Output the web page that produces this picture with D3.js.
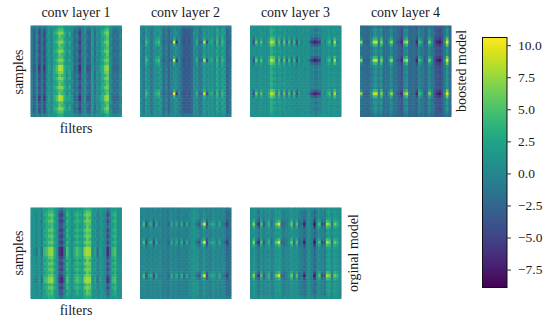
<!DOCTYPE html>
<html>
<head>
<meta charset="utf-8">
<script src="https://cdn.jsdelivr.net/npm/d3@7"></script>
<style>
	html, body { margin: 0; padding: 0; background: #fff; }
	svg { display: block; }
	text { font-family: "Liberation Serif", serif; fill: #1a1a1a; }
</style>
</head>
<body>
<svg id="svg_canvas" width="550" height="321"></svg>
<script>
// Each heatmap is stored as a few typical sample rows
// (edge, quiet, near a burst, burst, second quiet), one value per filter.
var b1Edge = [0,-1,0,-1,0,-1,0,1,1,1,2,3,3,1,1,1,1,0,0,-1,0,1,0,0,1,0,1,1,1,2,3,1,0,0,0,1];
var b1Quiet = [-1,-2.5,0,-4,-1,-4,0,1,0,2,3,5,5,2,1,1,1,-2,-1,-4,-1,1,-2,-2,1,-1,0,1,2,4,5,1,-1,-2,-1,0];
var b1Near = [-1,-3,0,-5,-1,-5,0,1.5,0,3,4.5,7,7,3.5,1,3,0,-2.5,-1.5,-5.5,-1,1,-3,-3,2,-2,1,1,3,5.5,6.5,1,-2,-2,-2,0];
var b1Burst = [-1,-3.5,0,-6,-1,-6,0,2,0,3,5,8.5,8,3.5,2,2.5,1,-3,-1.5,-6.5,-1,1.5,-4,-3.5,1.5,-1,0.5,2,3,6.5,7.5,1.5,-2,-2.5,-2.5,0];
var b1Alt = [-0.5,-3,0.5,-3.5,-1.5,-4.5,1,0.5,0.5,2.5,2.5,6,4,3,0,2.5,0,-2.5,0,-4.5,0,0,-1.5,-3,2,-2,1,0,3,3.5,6,0,-1.5,-1,-2,1];

var b2Edge = [0.5,0,1,0.5,0,0.5,1,1,0,-1,-0.5,-1,0,0.5,0,0,-1,-1.5,-1,-1.5,-1,0,0.5,-0.5,0,0.5,0.5,0.5,1,0,1.5,0,1,0.5,-1,-0.5];
var b2Quiet = [0,-1,2,0,-1,0,1,2,0,-2,-1,-2.5,-1,1,0,0,-2.5,-3.5,-3,-3.5,-2,0,1,-1.5,0,1,1,0.5,1.5,-0.5,3,0,2.5,1,-2.5,-1.5];
var b2Near = [0,-1,3,0.5,-1,0.5,2,3,0,-2,-1,-2.5,-1,3,-1,0,-2.5,-3.5,-3,-3.5,-2,0,2,-1.5,0,3,0,1,2,-0.5,3.5,0,3,1,-2.5,-1.5];
var b2Burst = [0,-2,4.5,1,-2,1,3,4.5,-1,-3,-1,-3,-3,10,-6,1,-3,-4,-3,-4,-2,0,3.5,-3,-2,9,-5,2,3,-2,4.5,-1,4,2,-3,-2];
var b2Alt = [1,-1.5,1,1,-2,1,0,1,1,-2.5,0,-3,0,0,1,-1,-2,-3,-3.5,-3,-2.5,1,0,-1,-1,2,0,1,1,0,2,1,1.5,2,-3,-1];

var b3Edge = [0.9,0.8,0.8,0.9,1.1,0.8,0.9,1.1,2,1.6,0.9,1.4,0.9,1.2,0.8,1,0.8,0.9,0.7,0.9,0.8,0.9,0.9,0.8,0.4,0.1,0.2,0.5,0.8,0.8,0.9,1.1,0.9,1.1,0.9,0.9];
var b3Quiet = [1,0.5,0.5,1,1,0.5,0.5,1.5,3.5,2.5,1,2,1,2,0.5,1.5,0.5,1.5,0,1,0.5,1,1,0.5,-0.5,-1,-1.5,-0.5,0.5,0.5,1,1.5,1,1.5,1,1];
var b3Near = [1,-1.5,2.5,0.5,2.5,0.5,0.5,2.5,6,4.5,0.5,3.5,-0.5,3.5,-0.5,2.5,-0.5,2.5,-1.5,1.5,0.5,1,1,0.5,-2.5,-3.5,-3.5,-2,0.5,0.5,1.5,2.5,0.5,4.5,1.5,1];
var b3Burst = [1,-4,6,-0.5,5,-0.5,0.5,3.5,9,6.5,-1.5,5,-2.5,5.5,-2.5,4.5,-2.5,4.5,-4.5,2.5,-0.5,1,0.5,-1.5,-5.5,-7.5,-6.5,-5.5,1.5,-0.5,2.5,4.5,-1.5,8,-0.5,1];
var b3Alt = [0.8,1,0.2,0.6,1.2,1,0.2,1,3,1.5,0.6,1.5,0.4,1,1,0.6,0.9,0.5,0.5,0.6,0.9,0.4,0.8,0.3,0,-0.6,-0.4,0.1,0,0.8,0.4,1,0.6,1,0.4,0.6];

var b4Edge = [-2,-2.5,-2.5,-2.5,-2,-1,-1,-1.5,-1,-2.5,-2.5,-2,-1,-2,-2.5,-2.5,-3,-1.5,-1,-2.5,-2.5,-2.5,-3,-1.5,-2,-2.5,-2.5,-1.5,-2,-3,-3,-3,-3,-2,-1,-2.5];
var b4Quiet = [-1,-2,-2.5,-2,-1,1,1,-0.5,1,-2,-2,-1,0.5,-1.5,-2,-2.5,-4,0,1,-2,-2.5,-2,-3,0,-1,-2.5,-2,0.5,-1,-3,-4,-4.5,-3.5,-1,2,-2];
var b4Near = [1,-2,-2.5,-2,-0.5,4,4,-1,4,-2,-2,0,3,-1.5,-2,-3,-5,2,4,-2,-2.5,-2,-4.5,2,0,-3,-2,2.5,0,-3.5,-5,-6,-4,0,6,-2];
var b4Burst = [7,-3,-3,-3,1,8.5,9,-1,6.5,-1,-3,2,7.5,-1,-3,-4,-7,5.5,8.5,-1,-3,-2,-7,4.5,2,-4,-2,6.5,1,-4,-7,-8,-5,2,10,-1];
var b4Alt = [-1.5,-2.5,-2,-2.5,-1.5,0,0.5,-1,0,-2.5,-1.5,-1.5,0,-2,-1.5,-3,-3.5,-0.5,0,-2.5,-2,-2.5,-2.5,-0.5,-1.5,-2,-2.5,0,-1.5,-2.5,-3.5,-4,-3,-1.5,1,-2.5];

var o1Edge = [1,1,1,1,0.5,2,2,3,3,2,1,-1,-1.5,0.5,2,1.5,1,1.5,2,1.5,1.5,3,3.5,3,1,1,0.5,1,1,1,-1,0.5,1.5,2,1,1];
var o1Quiet = [1,1,0.5,1,0,2,3,4,4.5,2,1,-3,-4,0,3,1.5,1,2,3,2,1.5,4,5.5,5,1,1.5,0,1,1,0.5,-3,0,2,3,1,1];
var o1Near = [1,1,0,1.5,-1,3,3.5,5.5,6,3,1,-4.5,-5.5,-1,4,2,0.5,3,4,3,2,5.5,6.5,6,1,2,-1,1.5,0.5,0,-5,-1,3,4,1,1];
var o1Burst = [1,0.5,-1,2,-2,4,5,7,7.5,3.5,1,-6,-7,-1.5,5,2,0.5,3.5,5,3.5,2.5,7,8,7.5,0.5,2.5,-2,2,0.5,0,-6.5,-1.5,4,5,0.5,1];
var o1Alt = [0.5,1.5,0,1,0.5,1.5,3.5,3.5,5,1.5,1.5,-3.5,-3,-0.5,2,2.5,0,1.5,3.5,1,2,3,6,4,1.5,0.5,0.5,0.5,1.5,0,-2.5,0.5,1.5,3.5,0.5,1.5];

var o2Edge = [0,0,0,0,0,0,0,0,0,-0.5,-0.5,-0.5,0,0,0,-0.5,0,0,0,0,0.5,1,0.5,0,0,0,0,0,0,0,0,0,0,0,-1,-0.5];
var o2Quiet = [0,0.5,-0.5,0,0,-0.5,0,0,-0.5,-0.5,-1,-0.5,0,0,-0.5,-1,0,-0.5,-0.5,0,1,1.5,1,-0.5,0,0.5,-0.5,-0.5,0,0.5,0,0,0,-0.5,-2.5,-1.5];
var o2Near = [0,2,-2,0,1,-2,1,0,-0.5,-0.5,-1,-1,1,0,1,-1,1.5,-1,0.5,0,1,1.5,0,-2,1,3,-3,0,1,1,0,1,0,-0.5,-3.5,-1.5];
var o2Burst = [-1,5,-5,2,3.5,-5,3,-1,-1,-0.5,-1,-3,3,-1,3,-2,3.5,-3,3,-1,1,1,-2,-4,3,10,-5,1,3,2,-1,3,-1,-2,-6,-1];
var o2Alt = [-0.5,0,0.5,-0.5,0.5,0,-0.5,0.5,0,-1,-0.5,-1,0.5,-0.5,0,-0.5,-0.5,0,-1,0.5,0.5,1,1.5,0,-0.5,1,0,-1,0.5,0,0.5,-0.5,0.5,0,-2,-2];

var o3Edge = [0.5,1,0.5,0,1,0.5,0.5,1,0.5,0.5,1,1,0.5,0.5,0.5,0.5,1,0.5,1,0.5,0.5,-0.5,0.5,0.5,0.5,-1,0.5,0.5,0.5,0,1,1,0.5,1,1,0.5];
var o3Quiet = [0.5,1.5,0,-1.5,1,-0.5,0.5,1,-0.5,0.5,1.5,2,0,-0.5,0,0.5,1.5,0.5,1,-0.5,-0.5,-2.5,0,0.5,-0.5,-3,-0.5,0.5,-0.5,-1,2,2,0.5,2,1.5,0.5];
var o3Near = [0.5,3.5,-0.5,-3.5,2.5,-1.5,0.5,2.5,-1.5,0.5,2.5,4.5,-0.5,-1.5,-0.5,0.5,3.5,-0.5,2.5,-1.5,-0.5,-4.5,0.5,0.5,-0.5,-5.5,0.5,2.5,-1.5,-1.5,4.5,3.5,-0.5,3.5,2.5,0.5];
var o3Burst = [0.5,7,-2.5,-6.5,5,-3.5,0.5,4,-2.5,1.5,6,9.5,-2.5,-2.5,-0.5,1.5,6,-2.5,5,-2.5,-1.5,-7.5,0.5,0.5,-0.5,-8,1.5,5,-4.5,-3.5,8,6,-1.5,6,4,0.5];
var o3Alt = [0,1,0.5,-1,0.5,0,0,0.5,0,0,1,1.5,0.5,-1,0.5,0,1,1,0.5,0,-1,-1.5,-0.5,1,-1,-2,0,0,0,-1.5,1.5,1.5,0,1.5,1,0];

// which typical row each sample uses: 0 edge, 1 quiet, 2 near, 3 burst, 4 second quiet
var burstRows = [0,1,4,1,2,3,2,4,1,4,2,3,2,1,4,1,4,1,4,1,4,2,3,2,4,1,4,1,4,0];
var bandRowsTop = [0,1,2,4,1,2,4,1,2,4,1,2,1,3,3,2,4,2,1,4,2,1,4,3,3,1,4,2,1,0];
var bandRowsBottom = [0,1,2,4,2,1,4,2,1,2,4,2,1,3,3,3,2,4,2,1,2,4,2,3,3,1,2,4,1,0];

var titles = ["conv layer 1", "conv layer 2", "conv layer 3", "conv layer 4"];
var colorTicks = [-7.5, -5, -2.5, 0, 2.5, 5, 7.5, 10];
var colorDomain = [-8.9, 10.6];

var panels = [
	{ rows: [b1Edge, b1Quiet, b1Near, b1Burst, b1Alt], order: bandRowsTop, x: 30.5, y: 25.5 },
	{ rows: [b2Edge, b2Quiet, b2Near, b2Burst, b2Alt], order: burstRows, x: 140, y: 25.5 },
	{ rows: [b3Edge, b3Quiet, b3Near, b3Burst, b3Alt], order: burstRows, x: 250, y: 25.5 },
	{ rows: [b4Edge, b4Quiet, b4Near, b4Burst, b4Alt], order: burstRows, x: 360, y: 25.5 },
	{ rows: [o1Edge, o1Quiet, o1Near, o1Burst, o1Alt], order: bandRowsBottom, x: 30.5, y: 207.5 },
	{ rows: [o2Edge, o2Quiet, o2Near, o2Burst, o2Alt], order: burstRows, x: 140, y: 207.5 },
	{ rows: [o3Edge, o3Quiet, o3Near, o3Burst, o3Alt], order: burstRows, x: 250, y: 207.5 }
];

var panelSize = 91;
var svgElement = d3.select("#svg_canvas");

var color = d3.scaleSequential(d3.interpolateViridis).domain(colorDomain);

// soft edges, the reference is a resampled raster
svgElement.append("defs").append("filter")
	.attr("id", "soft")
	.append("feGaussianBlur")
	.attr("stdDeviation", 0.6);

var drawPanel = function(panel){
	var filters = d3.range(panel.rows[0].length);
	var samples = d3.range(panel.order.length);
	var xScale = d3.scaleBand().domain(filters).range([0, panelSize]);
	var yScale = d3.scaleBand().domain(samples).range([0, panelSize]);

	var g = svgElement.append("g")
		.attr("transform", "translate(" + panel.x + "," + panel.y + ")")
		.attr("filter", "url(#soft)");

	samples.forEach(function(s){
		var row = panel.rows[panel.order[s]];
		g.selectAll(null)
			.data(row)
			.enter().append("rect")
			.attr("x", function(d, i){ return xScale(i); })
			.attr("y", yScale(s))
			.attr("width", xScale.bandwidth() + 0.5)
			.attr("height", yScale.bandwidth() + 0.5)
			.attr("fill", function(d){ return color(d); });
	});
};

panels.forEach(drawPanel);

var addText = function(str, x, y, rotated, size){
	svgElement.append("text")
		.attr("transform", "translate(" + x + "," + y + ")" + (rotated ? " rotate(-90)" : ""))
		.attr("text-anchor", "middle")
		.attr("font-size", size || 14)
		.text(str);
};

titles.forEach(function(t, i){
	addText(t, panels[i].x + panelSize / 2, 17);
});
addText("samples", 23, 72, true);
addText("samples", 23, 253, true);
addText("filters", 76, 133);
addText("filters", 76, 315);
addText("boosted model", 466, 71, true);
addText("orginal model", 358, 253, true);

// colorbar
var barX = 482.5, barWidth = 24.5;
var barScale = d3.scaleLinear().domain(colorDomain).range([287.5, 37.5]);

var gradient = svgElement.select("defs").append("linearGradient")
	.attr("id", "viridisBar")
	.attr("x1", 0).attr("y1", 1).attr("x2", 0).attr("y2", 0);
d3.range(0, 1.01, 0.05).forEach(function(t){
	gradient.append("stop")
		.attr("offset", t)
		.attr("stop-color", d3.interpolateViridis(t));
});

svgElement.append("rect")
	.attr("x", barX)
	.attr("y", barScale(colorDomain[1]))
	.attr("width", barWidth)
	.attr("height", barScale(colorDomain[0]) - barScale(colorDomain[1]))
	.attr("fill", "url(#viridisBar)")
	.attr("stroke", "#111")
	.attr("stroke-width", 1);

var barAxis = svgElement.append("g")
	.attr("transform", "translate(" + (barX + barWidth) + ",0)")
	.call(d3.axisRight(barScale)
		.tickValues(colorTicks)
		.tickFormat(d3.format(".1f"))
		.tickSize(4)
		.tickPadding(7));
barAxis.select(".domain").remove();
barAxis.selectAll("text")
	.attr("font-family", "Liberation Serif, serif")
	.attr("font-size", 13.5);
barAxis.selectAll("line").attr("stroke", "#333");
</script>
</body>
</html>
